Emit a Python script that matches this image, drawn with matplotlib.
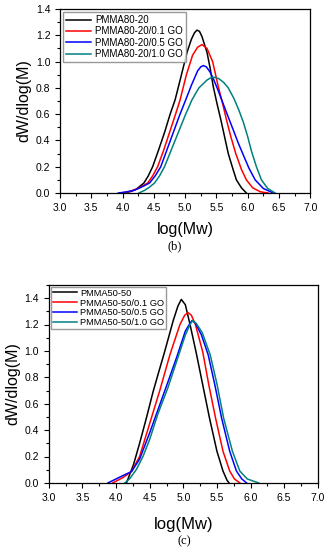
import matplotlib.pyplot as plt
from matplotlib.ticker import MultipleLocator

plt.rcParams['font.family'] = ['Liberation Sans', 'DejaVu Sans']

# (b) PMMA80-20 series: log(Mw) and dW/dlog(M)
b_labels = ['PMMA80-20', 'PMMA80-20/0.1 GO', 'PMMA80-20/0.5 GO', 'PMMA80-20/1.0 GO']
b0_x = [3.96, 4.05, 4.13, 4.22, 4.34, 4.41, 4.48, 4.57, 4.67, 4.76, 4.84, 4.92, 5.03, 5.10, 5.15,
        5.19, 5.23, 5.27, 5.35, 5.40, 5.45, 5.51, 5.57, 5.63, 5.69, 5.76, 5.82, 5.90, 5.98]
b0_y = [0, 0.003, 0.012, 0.03, 0.076, 0.13, 0.20, 0.32, 0.46, 0.60, 0.71, 0.86, 1.07, 1.17, 1.22,
        1.24, 1.23, 1.19, 1.07, 0.95, 0.81, 0.68, 0.56, 0.43, 0.30, 0.19, 0.10, 0.04, 0]
b1_x = [3.96, 4.10, 4.25, 4.40, 4.48, 4.56, 4.66, 4.75, 4.84, 4.92, 5.02, 5.12, 5.20, 5.27, 5.35,
        5.44, 5.53, 5.60, 5.66, 5.73, 5.81, 5.90, 5.98, 6.08, 6.20, 6.33]
b1_y = [0, 0.01, 0.035, 0.076, 0.13, 0.20, 0.33, 0.46, 0.59, 0.71, 0.90, 1.05, 1.11, 1.13, 1.10,
        1.00, 0.81, 0.68, 0.56, 0.43, 0.30, 0.18, 0.10, 0.04, 0.01, 0]
b2_x = [3.93, 4.05, 4.18, 4.30, 4.43, 4.52, 4.61, 4.71, 4.81, 4.91, 5.01, 5.10, 5.20, 5.25, 5.29,
        5.34, 5.40, 5.46, 5.52, 5.60, 5.68, 5.77, 5.85, 5.93, 6.02, 6.12, 6.25, 6.41]
b2_y = [0, 0.008, 0.02, 0.045, 0.076, 0.13, 0.20, 0.33, 0.46, 0.59, 0.71, 0.82, 0.93, 0.96, 0.97,
        0.96, 0.92, 0.86, 0.79, 0.69, 0.59, 0.48, 0.38, 0.29, 0.19, 0.10, 0.035, 0]
b3_x = [4.26, 4.35, 4.43, 4.51, 4.59, 4.67, 4.78, 4.89, 5.00, 5.11, 5.22, 5.35, 5.42, 5.48, 5.54,
        5.62, 5.69, 5.78, 5.86, 5.93, 6.00, 6.06, 6.14, 6.22, 6.32, 6.44]
b3_y = [0, 0.02, 0.045, 0.076, 0.13, 0.20, 0.33, 0.46, 0.59, 0.71, 0.80, 0.86, 0.88, 0.88, 0.87,
        0.84, 0.80, 0.72, 0.63, 0.54, 0.43, 0.32, 0.20, 0.10, 0.035, 0]

# (c) PMMA50-50 series
c_labels = ['PMMA50-50', 'PMMA50-50/0.1 GO', 'PMMA50-50/0.5 GO', 'PMMA50-50/1.0 GO']
c0_x = [4.155, 4.20, 4.26, 4.35, 4.45, 4.55, 4.64, 4.72, 4.85, 4.92, 4.97, 5.03, 5.10, 5.19, 5.29,
        5.39, 5.50, 5.59, 5.65, 5.68]
c0_y = [0, 0.06, 0.14, 0.30, 0.49, 0.69, 0.85, 0.99, 1.23, 1.34, 1.39, 1.35, 1.20, 0.99, 0.74,
        0.49, 0.24, 0.09, 0.02, 0]
c1_x = [3.95, 4.10, 4.23, 4.35, 4.50, 4.65, 4.80, 4.95, 5.02, 5.07, 5.12, 5.18, 5.29, 5.38, 5.48,
        5.59, 5.69, 5.76, 5.84]
c1_y = [0, 0.04, 0.086, 0.20, 0.45, 0.70, 0.97, 1.20, 1.27, 1.29, 1.27, 1.20, 0.99, 0.74, 0.49,
        0.24, 0.09, 0.03, 0]
c2_x = [3.88, 4.00, 4.10, 4.23, 4.35, 4.50, 4.62, 4.74, 4.90, 5.03, 5.10, 5.13, 5.18, 5.27, 5.37,
        5.47, 5.57, 5.69, 5.79, 5.87, 5.94]
c2_y = [0, 0.03, 0.055, 0.086, 0.18, 0.38, 0.55, 0.72, 0.95, 1.15, 1.21, 1.23, 1.21, 1.12, 0.97,
        0.74, 0.49, 0.24, 0.09, 0.03, 0]
c3_x = [4.13, 4.20, 4.30, 4.40, 4.50, 4.62, 4.77, 4.90, 5.03, 5.10, 5.14, 5.19, 5.28, 5.40, 5.50,
        5.60, 5.73, 5.84, 5.95, 6.12]
c3_y = [0, 0.03, 0.10, 0.20, 0.33, 0.52, 0.72, 0.92, 1.12, 1.20, 1.23, 1.21, 1.14, 0.97, 0.75,
        0.49, 0.24, 0.09, 0.03, 0]

colors = ['black', 'red', 'blue', '#008080']

fig = plt.figure(figsize=(3.3, 5.5), dpi=100)
ax1 = fig.add_axes([0.182, 0.649, 0.758, 0.3345])
ax2 = fig.add_axes([0.148, 0.122, 0.815, 0.36])


def style(ax, ymax):
    ax.set_xlim(3.0, 7.0)
    ax.set_ylim(0, ymax)
    ax.xaxis.set_major_locator(MultipleLocator(0.5))
    ax.xaxis.set_minor_locator(MultipleLocator(0.25))
    ax.yaxis.set_major_locator(MultipleLocator(0.2))
    ax.yaxis.set_minor_locator(MultipleLocator(0.1))
    ax.xaxis.set_major_formatter('{x:.1f}')
    ax.yaxis.set_major_formatter('{x:.1f}')
    ax.tick_params(which='both', direction='out', labelsize=7.5, width=0.8)
    ax.tick_params(which='major', length=3.5)
    ax.tick_params(which='minor', length=2)
    ax.set_ylabel('dW/dlog(M)', fontsize=11.5, labelpad=3)
    for s in ax.spines.values():
        s.set_linewidth(0.9)


xs_b = [b0_x, b1_x, b2_x, b3_x]
ys_b = [b0_y, b1_y, b2_y, b3_y]
for x, y, c, lab in zip(xs_b, ys_b, colors, b_labels):
    ax1.plot(x, y, color=c, lw=1.1, label=lab)
style(ax1, 1.4)
ax1.set_xlabel('log(Mw)', fontsize=11.5, labelpad=7)
ax1.legend(loc='upper left', fontsize=7, frameon=True, fancybox=False, edgecolor='gray',
           handlelength=2.6, handletextpad=0.4, borderpad=0.3, labelspacing=0.15,
           borderaxespad=0.3)

xs_c = [c0_x, c1_x, c2_x, c3_x]
ys_c = [c0_y, c1_y, c2_y, c3_y]
for x, y, c, lab in zip(xs_c, ys_c, colors, c_labels):
    ax2.plot(x, y, color=c, lw=1.1, label=lab)
style(ax2, 1.5)
ax2.set_xlabel('log(Mw)', fontsize=12, labelpad=10)
ax2.legend(loc='upper left', fontsize=6.7, frameon=True, fancybox=False, edgecolor='gray',
           handlelength=2.6, handletextpad=0.4, borderpad=0.2, labelspacing=0.1,
           borderaxespad=0.2)

fig.text(0.53, 1 - 246 / 550, '(b)', ha='center', va='center', fontsize=9,
         family='Liberation Serif')
fig.text(0.56, 1 - 541 / 550, '(c)', ha='center', va='center', fontsize=9,
         family='Liberation Serif')

fig.savefig('out.png', dpi=100)
